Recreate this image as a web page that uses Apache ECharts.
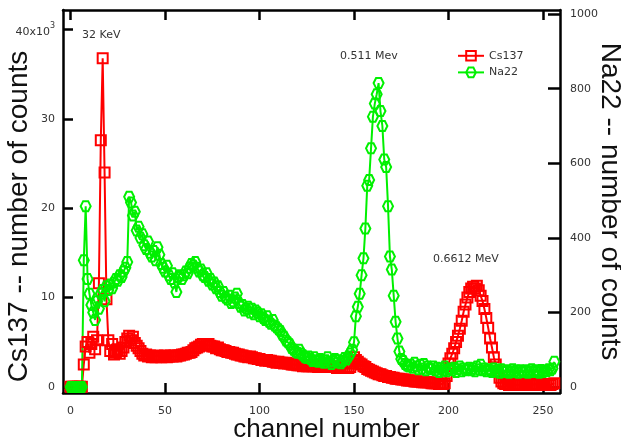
<!DOCTYPE html>
<html>
<head>
<meta charset="utf-8">
<script src="https://cdn.jsdelivr.net/npm/echarts@6/dist/echarts.min.js"></script>
<style>
  html, body { margin: 0; padding: 0; background: #fff; }
  #chart { width: 621px; height: 447px; }
</style>
</head>
<body>
<div id="chart"></div>
<script>
// counts per channel, index = channel number (0..256)
var cs137 = [
  0,0,0,0,0,0,0,
  2500,4500,5000,3800,4800,5600,4200,5200,
  11600,27600,36800,24000,9800,5200,
  4000,4800,3600,3800,4200,3700,4000,4400,5000,5400,
  5700,5200,5600,4900,4600,4300,4000,3700,3500,3600,
  3400,3500,3300,3400,3300,3500,3400,3300,3400,3500,
  3300,3400,3500,3400,3500,3400,3500,3500,3600,3600,
  3700,3800,3800,3900,4100,4300,4400,4500,4700,4800,
  4800,4700,4800,4600,4500,4500,4300,4400,4200,4100,
  4100,4000,3900,3900,3800,3800,3700,3600,3600,3500,
  3500,3400,3400,3300,3400,3300,3200,3200,3100,3100,
  3000,3000,2900,3000,2900,2900,2800,2800,2700,2800,
  2700,2700,2600,2700,2600,2600,2500,2500,2500,2400,
  2400,2400,2300,2400,2300,2300,2400,2300,2300,2300,
  2200,2300,2200,2300,2200,2200,2200,2300,2200,2200,
  2100,2200,2100,2100,2200,2100,2100,2200,2600,3300,
  3000,2800,2600,2500,2300,2200,2000,1900,1800,1700,
  1600,1500,1400,1400,1300,1200,1200,1100,1100,1000,
  1000,900,900,900,800,800,800,700,700,700,
  700,600,600,600,600,500,500,500,500,500,
  400,400,400,400,300,300,300,400,1200,2600,
  3200,3700,4300,5000,5700,6500,7400,8400,9200,10000,
  10600,11000,11200,11000,11300,10800,10200,9600,8700,7700,
  6600,5400,4400,3300,2500,1700,1000,600,400,300,
  300,200,200,300,200,200,300,200,200,200,
  200,300,200,200,200,300,200,200,200,300,
  200,200,300,200,300,400
];

var na22 = [
  0,0,0,0,0,0,0,
  340,485,290,250,
  220,200,180,230,210,250,260,230,270,260,
  275,265,280,290,285,300,295,310,320,335,
  510,495,460,470,420,430,400,410,380,370,
  390,360,350,365,340,375,355,330,320,310,
  325,300,290,305,280,255,295,300,290,300,
  310,305,320,330,325,335,320,310,315,300,
  295,305,285,290,275,280,265,270,255,245,
  255,240,235,245,225,230,240,250,225,215,
  220,205,210,215,200,210,195,205,200,190,
  195,185,180,190,175,170,180,165,160,155,
  150,140,135,125,120,115,105,100,95,92,
  100,90,85,80,78,82,75,70,80,72,
  68,75,70,65,72,80,68,62,70,75,
  66,72,64,70,78,74,82,90,100,120,
  190,215,250,300,345,425,540,555,640,725,
  760,785,815,740,700,610,590,485,350,315,
  245,175,130,95,75,70,62,58,55,60,
  52,65,55,48,60,50,62,45,55,50,
  48,55,45,52,40,50,45,55,42,48,
  50,45,52,40,48,55,42,50,45,48,
  52,45,50,42,55,48,60,45,50,42,
  48,45,40,50,42,45,38,48,42,40,
  45,38,42,48,40,44,38,45,42,40,
  45,38,42,48,40,45,42,38,46,40,
  44,42,48,45,50,68
];

var xTicks = [0, 50, 100, 150, 200, 250];
var csTicks = [0, 10000, 20000, 30000, 40000];
var naTicks = [0, 200, 400, 600, 800, 1000];

var chart = echarts.init(document.getElementById('chart'));

var hexagon = 'path://M4,0 L12,0 L16,7 L12,14 L4,14 L0,7 Z';
var tickFont = { fontFamily: 'DejaVu Sans', fontSize: 11, color: '#333' };
var frame = { show: true, onZero: false, lineStyle: { color: '#000', width: 2.5 } };
var tickStyle = { width: 2.5, color: '#000' };

chart.setOption({
  animation: false,
  grid: { left: 63, right: 61, top: 10, bottom: 54, containLabel: false, outerBoundsMode: 'none' },
  legend: {
    orient: 'vertical',
    left: 452, top: 45,
    itemWidth: 26, itemHeight: 12, itemGap: 5,
    textStyle: { fontFamily: 'DejaVu Sans', fontSize: 11, color: '#333' },
    data: ['Cs137', 'Na22']
  },
  xAxis: [{
    type: 'value', min: -4, max: 259,
    name: 'channel number', nameLocation: 'middle', nameGap: 24, nameMoveOverlap: false,
    nameTextStyle: { fontFamily: 'Liberation Sans', fontSize: 26, color: '#111', padding: [0, 0, 0, 30] },
    axisLine: frame,
    axisTick: { inside: true, length: 10, lineStyle: tickStyle, customValues: xTicks },
    axisLabel: Object.assign({ margin: 13, customValues: xTicks }, tickFont),
    splitLine: { show: false }
  }, {
    type: 'value', position: 'top', min: -4, max: 259,
    axisLine: frame,
    axisTick: { inside: true, length: 10, lineStyle: tickStyle, customValues: xTicks },
    axisLabel: { show: false },
    splitLine: { show: false }
  }],
  yAxis: [{
    type: 'value', min: -700, max: 42200,
    name: 'Cs137 -- number of counts', nameLocation: 'middle', nameGap: 30, nameMoveOverlap: false,
    nameTextStyle: { fontFamily: 'Liberation Sans', fontSize: 28, color: '#111', padding: [0, 30, 0, 0] },
    axisLine: frame,
    axisTick: { show: true, inside: true, length: 10, lineStyle: tickStyle, customValues: csTicks },
    axisLabel: Object.assign({
      margin: 8, customValues: csTicks,
      formatter: function (v) {
        if (v === 40000) return '{a|40x10}{s|3}';
        return String(v / 1000);
      },
      rich: {
        a: { fontFamily: 'DejaVu Sans', fontSize: 11, color: '#333', lineHeight: 16, verticalAlign: 'bottom' },
        s: { fontFamily: 'DejaVu Sans', fontSize: 8, color: '#333', lineHeight: 8, verticalAlign: 'top' }
      }
    }, tickFont),
    splitLine: { show: false }
  }, {
    type: 'value', position: 'right', min: -16, max: 1011,
    name: 'Na22 -- number of counts', nameLocation: 'middle', nameGap: 36, nameRotate: -90, nameMoveOverlap: false,
    nameTextStyle: { fontFamily: 'Liberation Sans', fontSize: 28, color: '#111' },
    axisLine: frame,
    axisTick: { show: true, inside: true, length: 12, lineStyle: tickStyle, customValues: naTicks },
    axisLabel: Object.assign({ margin: 10, customValues: naTicks, formatter: function (v) { return String(v); } }, tickFont),
    splitLine: { show: false }
  }],
  graphic: [
    { type: 'text', left: 82, top: 30, style: { text: '32 KeV', font: '11px "DejaVu Sans"', fill: '#333' } },
    { type: 'text', left: 340, top: 51, style: { text: '0.511 Mev', font: '11px "DejaVu Sans"', fill: '#333' } },
    { type: 'text', left: 433, top: 254, style: { text: '0.6612 MeV', font: '11px "DejaVu Sans"', fill: '#333' } }
  ],
  series: [{
    name: 'Cs137', type: 'line', yAxisIndex: 0,
    data: cs137.map(function (v, i) { return [i, v]; }),
    symbol: 'rect', symbolSize: 10,
    itemStyle: { color: 'rgba(255,255,255,0)', borderColor: '#ff0000', borderWidth: 2 },
    lineStyle: { color: '#ff0000', width: 2 }
  }, {
    name: 'Na22', type: 'line', yAxisIndex: 1,
    data: na22.map(function (v, i) { return [i, v]; }),
    symbol: hexagon, symbolSize: 10,
    itemStyle: { color: 'rgba(255,255,255,0)', borderColor: '#00f000', borderWidth: 2 },
    lineStyle: { color: '#00f000', width: 2 }
  }]
});
</script>
</body>
</html>
